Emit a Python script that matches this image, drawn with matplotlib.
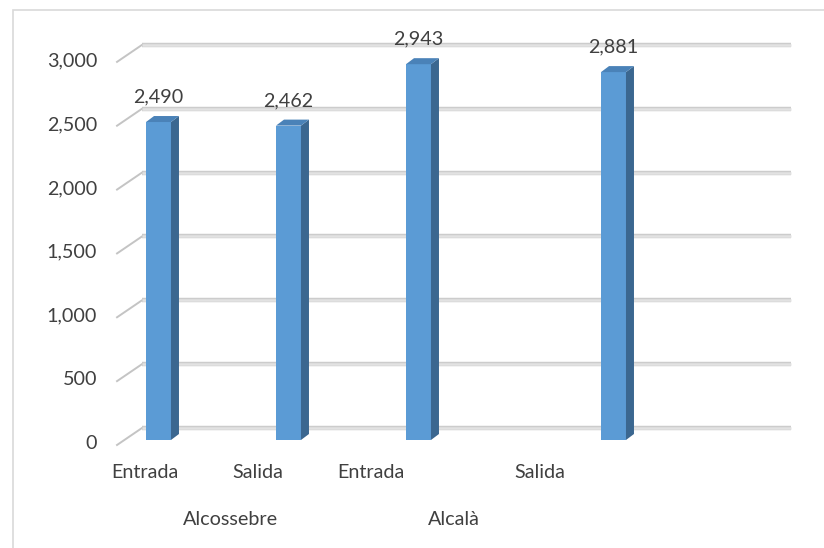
import matplotlib
matplotlib.use("Agg")
import matplotlib.pyplot as plt
from matplotlib.patches import Polygon, Rectangle

# data
groups = ["Alcossebre", "Alcalà"]
categories = ["Entrada", "Salida", "Entrada", "Salida"]
values = [2490, 2462, 2943, 2881]
yticks = [0, 500, 1000, 1500, 2000, 2500, 3000]

# layout (x in category slots, y in value units)
bar_x = [0, 1, 2, 3.5]
group_label_x = [0.55, 2.27]
bar_w = 0.192
depth_x, depth_y = 0.0615, 47          # bar depth
back_x, back_y = -0.127, 94            # back wall offset of gridlines
front_x, front_y = -0.319, -39         # front edge of gridlines
right_x = 4.865
persp = 0.867                          # category labels drift left (perspective)
FS = 14.2

FRONT = "#5b9bd5"
SIDE = "#3b6790"
TOP = "#4a82b8"
TXT = "#404040"

plt.rcParams["font.family"] = ["Lato", "DejaVu Sans"]

fig = plt.figure(figsize=(8.24, 5.48), dpi=100)
ax = fig.add_axes([0, 0, 1, 1])
# map pixels: x=0 at px 158.5, 130 px per slot; y=0 at px 440, 0.1277 px per unit
ax.set_xlim(-158.5 / 130, (824 - 158.5) / 130)
ax.set_ylim((440 - 548) / 0.1277, 440 / 0.1277)
ax.axis("off")

# gridlines on the back wall + slanted edge to the front
for v in yticks:
    ax.plot([back_x, right_x], [v + back_y] * 2, color="#cccccc", lw=3.2,
            solid_capstyle="butt", zorder=1)
    ax.plot([back_x, right_x], [v + back_y] * 2, color="#e2e2e2", lw=1.8,
            solid_capstyle="butt", zorder=1.1)
    ax.plot([front_x, back_x], [v + front_y, v + back_y], color="#c4c4c4",
            lw=1.4, zorder=1)
    ax.text(-0.473, v - 30, f"{v:,}", ha="right", va="center",
            fontsize=FS, color=TXT)

# 3-D looking columns
ax.bar(bar_x, values, width=bar_w, color=FRONT, zorder=3)
for x, v in zip(bar_x, values):
    r = x + bar_w / 2
    l = x - bar_w / 2
    ax.add_patch(Polygon([(r, 0), (r + depth_x, depth_y), (r + depth_x, v + depth_y),
                          (r, v)], closed=True, fc=SIDE, ec="none", zorder=3))
    ax.add_patch(Polygon([(l, v), (l + depth_x, v + depth_y), (r + depth_x, v + depth_y),
                          (r, v)], closed=True, fc=TOP, ec="none", zorder=3))
    ax.text(x, v + 196, f"{v:,}", ha="center", va="center", fontsize=FS, color=TXT)

# category and group labels
for x, c in zip(bar_x, categories):
    ax.text(persp * x - 0.104, -258, c, ha="center", va="center",
            fontsize=FS, color=TXT)
for x, g in zip(group_label_x, groups):
    ax.text(x, -619, g, ha="center", va="center", fontsize=FS, color=TXT)

# chart frame
fig.add_artist(Rectangle((13 / 824, -0.05), 1.0, 1 - 10 / 548 + 0.05,
                         transform=fig.transFigure, fill=False,
                         ec="#d9d9d9", lw=1.2))

fig.savefig("out.png", dpi=100)
